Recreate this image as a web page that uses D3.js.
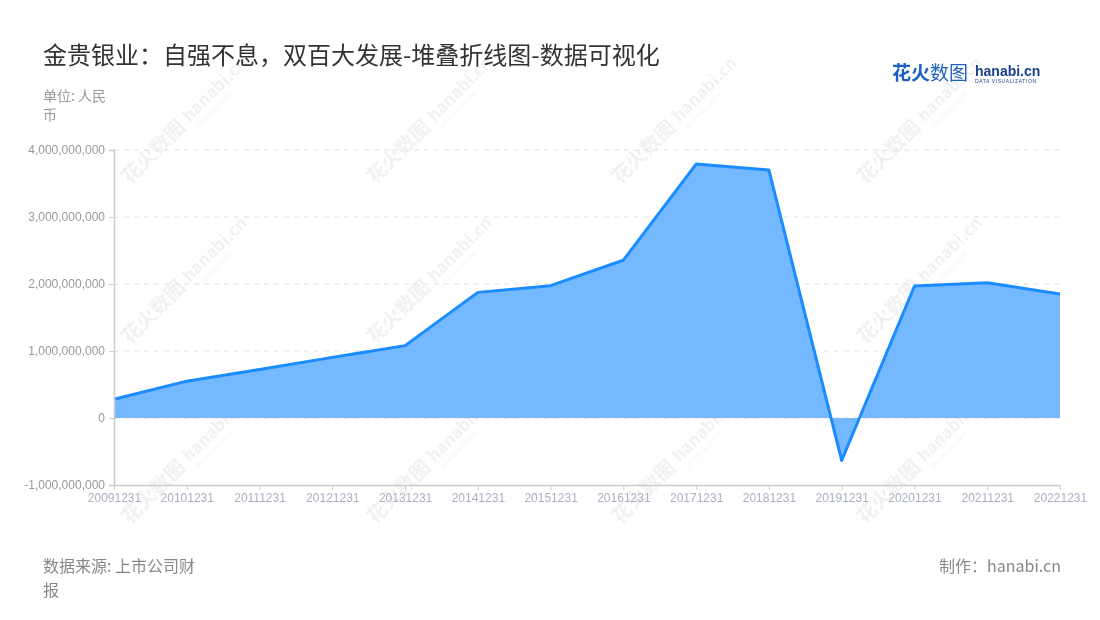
<!DOCTYPE html>
<html>
<head>
<meta charset="utf-8">
<script src="https://cdn.jsdelivr.net/npm/d3@7"></script>
<style>
  html, body { margin: 0; padding: 0; background: #fff; }
  svg { display: block; font-family: "Noto Sans CJK SC", "Noto Sans", sans-serif; }
</style>
</head>
<body>
<svg id="chart" width="1100" height="620"></svg>
<script>
const categories = ["20091231","20101231","20111231","20121231","20131231","20141231","20151231","20161231","20171231","20181231","20191231","20201231","20211231","20221231"];
const values = [280000000, 550000000, 725000000, 905000000, 1080000000, 1875000000, 1975000000, 2355000000, 3790000000, 3700000000, -635000000, 1970000000, 2020000000, 1850000000];
const yTicks = [-1000000000, 0, 1000000000, 2000000000, 3000000000, 4000000000];

(function () {
const svg = d3.select("#chart");
const pLeft = 114, pRight = 1060, pTop = 150, pBottom = 485;

// watermarks
const wm = svg.append("g").attr("opacity", 0.08);
[[130,185],[375,185],[620,185],[865,185],
 [130,345],[375,345],[620,345],[865,345],
 [130,525],[375,525],[620,525],[865,525]].forEach(([px,py]) => {
  const g = wm.append("g").attr("transform", `translate(${px},${py}) rotate(-45)`);
  g.append("text").attr("x", 0).attr("y", 0).attr("font-size", 20).attr("font-weight", "bold").attr("fill", "#555").text("花火数图");
  g.append("text").attr("x", 86).attr("y", -2).attr("font-size", 17).attr("font-weight", "bold").attr("fill", "#555").text("hanabi.cn");
  g.append("text").attr("x", 88).attr("y", 8).attr("font-size", 5).attr("fill", "#555").text("DATA VISUALIZATION");
});

const x = d3.scalePoint().domain(categories).range([pLeft, pRight]);
const y = d3.scaleLinear().domain([-1000000000, 4000000000]).range([pBottom, pTop]);
const fmt = d => d3.format(",")(d).replace("\u2212", "-");

// grid
svg.append("g").selectAll("line").data(yTicks.filter(d => d !== -1000000000)).join("line")
  .attr("x1", pLeft).attr("x2", pRight)
  .attr("y1", d => y(d)).attr("y2", d => y(d))
  .attr("stroke", "#e0e0e0").attr("stroke-width", 1).attr("stroke-dasharray", "5,5");

// area
const area = d3.area().x((d, i) => x(categories[i])).y0(y(0)).y1(d => y(d));
svg.append("path").datum(values).attr("d", area).attr("fill", "#74b8ff");
const line = d3.line().x((d, i) => x(categories[i])).y(d => y(d));
svg.append("path").datum(values).attr("d", line).attr("fill", "none")
  .attr("stroke", "#1a8cff").attr("stroke-width", 3).attr("stroke-linejoin", "round");

// y axis
const yAxis = svg.append("g").attr("transform", `translate(${pLeft},0)`)
  .call(d3.axisLeft(y).tickValues(yTicks).tickSize(5).tickPadding(4).tickFormat(fmt));
yAxis.select(".domain").attr("stroke", "#ccc").attr("stroke-width", 1.5);
yAxis.selectAll(".tick line").attr("stroke", "#ccc");
yAxis.selectAll("text").attr("fill", "#999").attr("font-size", 12).attr("font-family", "Liberation Sans, Arial, sans-serif");

// x axis
const xAxis = svg.append("g").attr("transform", `translate(0,${pBottom})`)
  .call(d3.axisBottom(x).tickSize(5).tickPadding(3).tickSizeOuter(0));
xAxis.select(".domain").attr("stroke", "#ccc").attr("stroke-width", 1.5);
xAxis.selectAll(".tick line").attr("stroke", "#ccc");
xAxis.selectAll("text").attr("fill", "#aab0c0").attr("font-size", 12).attr("font-family", "Liberation Sans, Arial, sans-serif");

// title
svg.append("text").attr("x", 43).attr("y", 64).attr("font-size", 24).attr("fill", "#333")
  .text("金贵银业：自强不息，双百大发展-堆叠折线图-数据可视化");
// unit
svg.append("text").attr("x", 43).attr("y", 101).attr("font-size", 14).attr("fill", "#999").text("单位: 人民");
svg.append("text").attr("x", 43).attr("y", 120).attr("font-size", 14).attr("fill", "#999").text("币");

// footer
svg.append("text").attr("x", 43).attr("y", 572).attr("font-size", 16).attr("fill", "#888").text("数据来源: 上市公司财");
svg.append("text").attr("x", 43).attr("y", 596).attr("font-size", 16).attr("fill", "#888").text("报");
svg.append("text").attr("x", 1061).attr("y", 572).attr("font-size", 16).attr("fill", "#888").attr("text-anchor", "end").text("制作：hanabi.cn");

// logo
const logo = svg.append("g");
logo.append("text").attr("x", 892).attr("y", 80).attr("font-size", 19).attr("font-weight", "bold").attr("fill", "#1f5fbf").text("花火");
logo.append("text").attr("x", 930).attr("y", 80).attr("font-size", 19).attr("fill", "#1f5fbf").text("数图");
logo.append("text").attr("x", 975).attr("y", 76).attr("font-size", 14).attr("font-weight", "bold").attr("fill", "#1a3f8f").attr("font-family", "Liberation Sans, Arial, sans-serif").text("hanabi.cn");
logo.append("text").attr("x", 975).attr("y", 83).attr("font-size", 5).attr("fill", "#1a3f8f").attr("font-family", "Liberation Sans, Arial, sans-serif").attr("letter-spacing", 0.6).text("DATA VISUALIZATION");
})();
</script>
</body>
</html>
